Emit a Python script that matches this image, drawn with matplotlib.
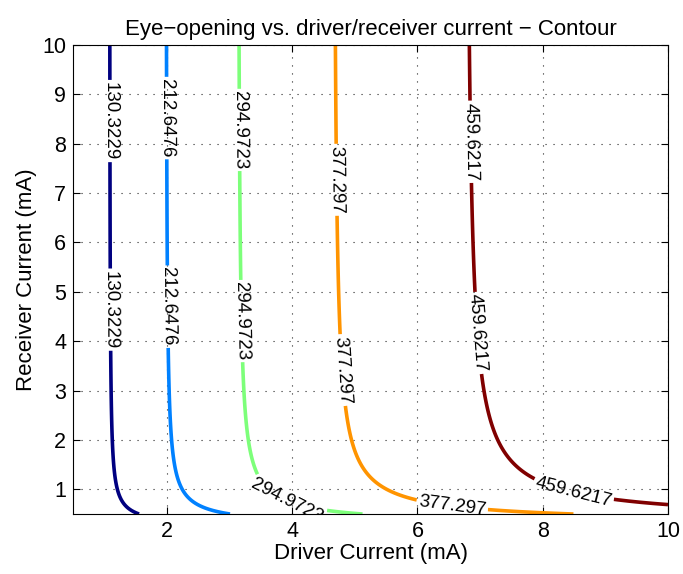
import numpy as np
import matplotlib
matplotlib.use("Agg")
import matplotlib.pyplot as plt

plt.rcParams['font.family'] = ['Liberation Sans', 'DejaVu Sans']

# Contour levels (eye-opening values shown on the labels)
levels = [130.3229, 212.6476, 294.9723, 377.297, 459.6217]

# Axis ranges (mA)
driver_range = [0.5, 10.0]
receiver_range = [0.5, 10.0]

# Surface parameters: saturating response in driver current,
# receiver-current penalty that fades at higher bias
driver_gain = 881.0
driver_knee = 6.26
recv_a = 0.05
recv_b = 0.04

# Label anchor points (driver, receiver) along each contour
label_points = [
    (1.10, 8.46), (1.12, 4.64),
    (2.00, 8.52), (2.05, 4.70),
    (3.20, 8.28), (3.25, 4.41), (3.93, 0.80),
    (4.75, 7.27), (4.85, 3.42), (6.56, 0.73),
    (6.86, 8.04), (7.00, 4.17), (8.50, 1.00),
]

x = np.linspace(driver_range[0], driver_range[1], 400)
y = np.linspace(receiver_range[0], receiver_range[1], 400)
X, Y = np.meshgrid(x, y)
F = driver_gain * X / (X + driver_knee)
G = (1 - recv_a / Y - recv_b / Y**2) / (1 - recv_a / 10 - recv_b / 100)
Z = F * G

fig = plt.figure(figsize=(6.83, 5.74), dpi=100)
ax = fig.add_axes([0.107, 0.1045, 0.871, 0.8171])

cs = ax.contour(X, Y, Z, levels=levels, cmap='jet', linewidths=2.6)
fmt = {lev: str(lev) for lev in levels}
ax.clabel(cs, levels, inline=True, fmt=fmt, fontsize=13.5,
          manual=label_points, inline_spacing=2, colors='k')

ax.set_xlim(driver_range)
ax.set_ylim(receiver_range)
ax.set_xticks([2, 4, 6, 8, 10])
ax.set_yticks(range(1, 11))
ax.tick_params(direction='in', top=True, right=True, labelsize=15.5,
               length=5, width=0.8, pad=5)
ax.grid(True, linestyle=(0, (1, 6.2)), color='0.15', linewidth=0.8)
for s in ax.spines.values():
    s.set_linewidth(0.8)

ax.set_xlabel('Driver Current (mA)', fontsize=16, labelpad=1)
ax.set_ylabel('Receiver Current (mA)', fontsize=16, labelpad=4)
ax.set_title('Eye\u2212opening vs. driver/receiver current \u2212 Contour',
             fontsize=16, pad=7)

fig.savefig('out.png', dpi=100)
